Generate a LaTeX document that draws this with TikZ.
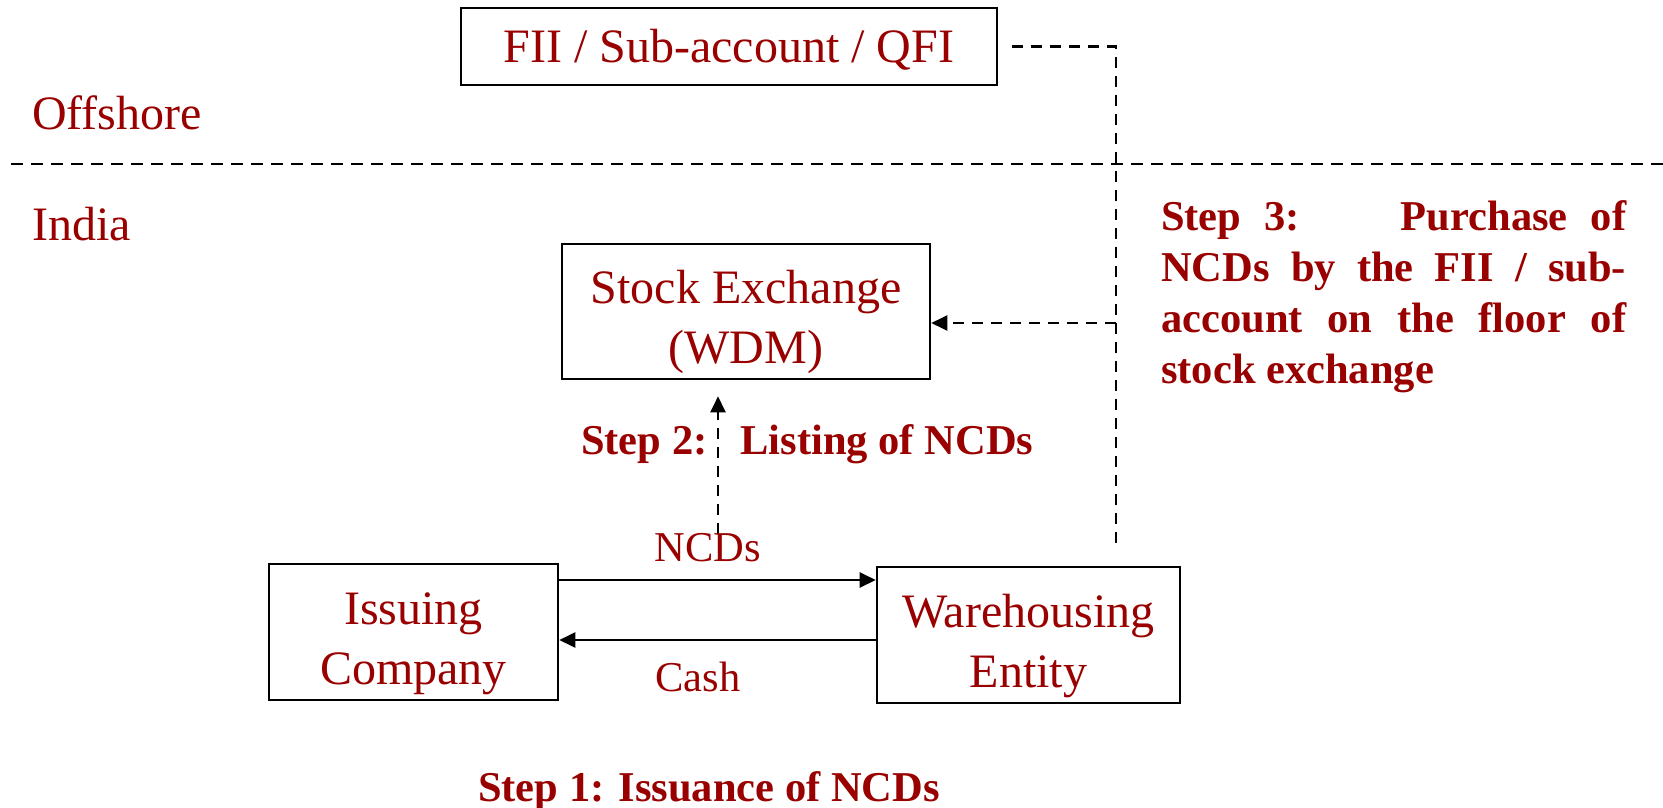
\documentclass[tikz,border=0pt]{standalone}
\usepackage{fontspec}
\setmainfont{Liberation Serif}
\usetikzlibrary{arrows.meta}
\definecolor{dred}{RGB}{153,0,0}
\newcommand{\lift}[1]{\rule{0pt}{#1pt}}
\begin{document}
\begin{tikzpicture}[x=1pt,y=-1pt,
  box/.style={draw=black,line width=2.6pt,inner sep=0pt,align=center,text=dred,font=\fontsize{48}{60}\selectfont},
  lbl/.style={inner sep=0pt,text=dred,font=\fontsize{42.5}{51}\selectfont},
  blbl/.style={inner sep=0pt,text=dred,font=\fontsize{42.5}{51}\selectfont\bfseries},
  big/.style={inner sep=0pt,text=dred,font=\fontsize{48}{60}\selectfont},
  dline/.style={line width=2.4pt,dash pattern=on 11pt off 8pt},
  arr/.style={line width=2.4pt,-{Triangle[length=16pt,width=15pt]}},
  darr/.style={dline,-{Triangle[length=16pt,width=15pt]}},
]
\useasboundingbox (0,0) rectangle (1663,808);
% boxes
\node[box,minimum width=536pt,minimum height=77pt] (fii) at (729,46.5) {\lift{39}FII / Sub-account / QFI};
\node[box,minimum width=368pt,minimum height=135pt] (stock) at (746,311.5) {\lift{55}Stock Exchange\\(WDM)};
\node[box,minimum width=289pt,minimum height=136pt] (issue) at (413.5,632) {\lift{55}Issuing\\Company};
\node[box,minimum width=303pt,minimum height=136pt] (ware) at (1028.5,635) {\lift{55}Warehousing\\Entity};
% region labels
\node[big,anchor=west] (off) at (32,113) {Offshore};
\node[big,anchor=west] (ind) at (32,224) {India};
% separator
\coordinate (sepL) at (11,164);
\coordinate (sepR) at (1663,164);
\draw[dline,dash pattern=on 12pt off 8pt] (sepL) -- (sepR);
% step 3 connectors
\coordinate (c1) at (1116,46.5);
\coordinate (c2) at (1116,546);
\coordinate (c3) at (1116,323);
\draw[dline] ([xshift=14pt]fii.east) -- (c1) -- (c2);
\draw[darr] (c3) -- (stock.east |- c3);
% step 2 connector
\coordinate (s2) at (718,534);
\draw[darr,shorten >=16pt] (s2) -- (stock.south -| s2);
% step 1 arrows
\coordinate (ya) at (0,580);
\coordinate (yb) at (0,640);
\draw[arr] (issue.east |- ya) -- (ware.west |- ya);
\draw[arr] (ware.west |- yb) -- (issue.east |- yb);
\node[lbl] (ncds) at (708,548) {NCDs};
\node[lbl] (cash) at (698,677) {Cash};
% step labels
\node[blbl,anchor=west] (st2) at (581,444) {Step 2:\hspace{33pt}Listing of NCDs};
\node[blbl] (st1) at (709,791) {Step 1: Issuance of NCDs};
\node[blbl,anchor=north west,align=left] (st3) at (1161,200) {%
\makebox[465pt][s]{Step 3:\hspace{62pt} Purchase of}\\
\makebox[465pt][s]{NCDs by the FII / sub-}\\
\makebox[465pt][s]{account on the floor of}\\
stock exchange};
\end{tikzpicture}
\end{document}
